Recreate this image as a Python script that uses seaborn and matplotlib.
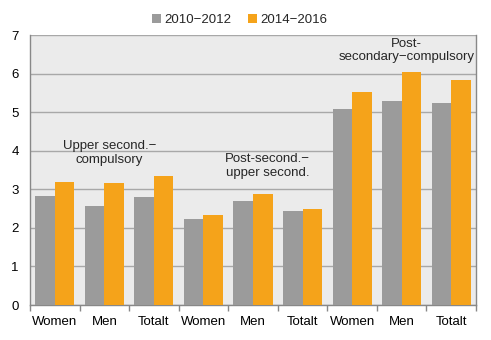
import matplotlib
matplotlib.use("Agg")
import matplotlib.pyplot as plt
from matplotlib.ticker import FixedLocator
import seaborn as sns
import pandas as pd

categories = ["Women", "Men", "Totalt", "Women", "Men", "Totalt", "Women", "Men", "Totalt"]
series_names = ["2010\u22122012", "2014\u22122016"]
values_2010_2012 = [2.83, 2.57, 2.80, 2.23, 2.70, 2.44, 5.09, 5.29, 5.24]
values_2014_2016 = [3.19, 3.16, 3.34, 2.33, 2.88, 2.49, 5.52, 6.04, 5.83]
group_labels = ["Upper second.\u2212\ncompulsory", "Post-second.\u2212\nupper second.", "Post-\nsecondary\u2212compulsory"]
yticks = [0, 1, 2, 3, 4, 5, 6, 7]

sns.set_theme(style="white")
plt.rcParams['font.family'] = ['Liberation Sans', 'DejaVu Sans']

keys = [f"{i}" for i in range(len(categories))]
df = pd.DataFrame({
    "key": keys * 2,
    "value": values_2010_2012 + values_2014_2016,
    "period": [series_names[0]] * len(keys) + [series_names[1]] * len(keys),
})

fs = 9.5
fig = plt.figure(figsize=(4.91, 3.40), dpi=100)
ax = fig.add_axes([30 / 491, 35 / 340, 446 / 491, 270 / 340])
ax.set_facecolor("#EBEBEB")
sns.barplot(data=df, x="key", y="value", hue="period", order=keys,
            palette=["#9B9B9B", "#F5A31A"], width=0.79, saturation=1,
            ax=ax, zorder=3, linewidth=0)

ax.set_ylim(0, 7)
ax.set_xlim(-0.5, len(keys) - 0.5)
ax.set_yticks(yticks)
ax.yaxis.grid(True, color="#A8A8A8", linewidth=1, zorder=0)
ax.set_axisbelow(True)
ax.set_xticks(range(len(keys)))
ax.set_xticklabels(categories)
ax.xaxis.set_minor_locator(FixedLocator([i - 0.5 for i in range(len(keys) + 1)]))
ax.tick_params(axis="x", which="major", length=0, pad=8, labelsize=fs, colors="black")
ax.tick_params(axis="x", which="minor", length=4, width=1, color="#888888", bottom=True)
ax.tick_params(axis="y", length=0, pad=8, labelsize=fs, colors="black")
ax.set_xlabel("")
ax.set_ylabel("")
for side in ["left", "bottom", "right"]:
    ax.spines[side].set_color("#888888")
    ax.spines[side].set_linewidth(1)
ax.spines["top"].set_visible(False)

ax.text(1.1, 3.95, group_labels[0], ha="center", va="center", fontsize=fs)
ax.text(4.3, 3.6, group_labels[1], ha="center", va="center", fontsize=fs)
ax.text(7.1, 6.6, group_labels[2], ha="center", va="center", fontsize=fs)

leg = ax.legend(loc="lower center", bbox_to_anchor=(0.47, 1.0), ncol=2, frameon=False,
                fontsize=fs, handlelength=0.7, handleheight=0.7, handletextpad=0.3,
                columnspacing=1.2, borderaxespad=0.3)

fig.savefig("out.png", dpi=100)
